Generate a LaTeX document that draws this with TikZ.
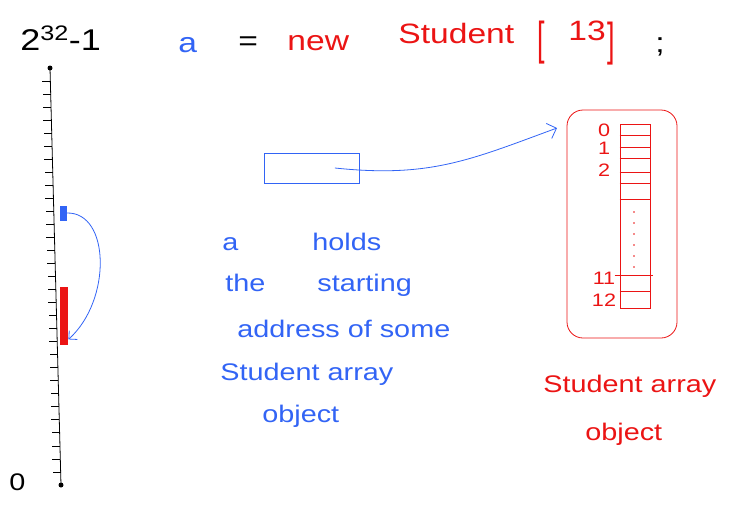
\documentclass[tikz,border=0pt]{standalone}
\usepackage{fontspec}
\usepackage{graphicx}
\newfontfamily\hand[FakeStretch=1.2]{Liberation Sans}
\usetikzlibrary{positioning, calc, arrows.meta}
\definecolor{penblue}{RGB}{50,100,245}
\definecolor{penred}{RGB}{235,20,20}
\tikzset{
  handtext/.style={inner sep=0pt, anchor=base west, font=\hand\fontsize{#1}{#1}\selectfont},
  handtext/.default=24,
  bluetext/.style={handtext=24, text=penblue},
  redtext/.style={handtext=24, text=penred},
  idx/.style={inner sep=0pt, text=penred, font=\hand\fontsize{18}{18}\selectfont},
  pointer/.style={draw=penblue, line width=0.8pt, -{Straight Barb[length=8pt,width=16pt]}}
}

\begin{document}
\begin{tikzpicture}[x=1pt, y=-1pt, line width=0.8pt]
  \useasboundingbox (0,0) rectangle (735,507);

  % the memory ruler, 0 at the bottom
  \node[circle, fill, inner sep=0pt, minimum size=5pt] (top) at (50,68) {};
  \node[circle, fill, inner sep=0pt, minimum size=5pt] (bot) at (61,485) {};
  \draw (top.center) -- (bot.center);
  \foreach \i in {1,...,31}{
    % one tick every 1/32 of the ruler
    \draw ($(top.center)!\i/32!(bot.center)$) -- ++(-8,0);
  }
  \node[handtext=30] (max) at (20,50) {2\textsuperscript{32}-1};
  \node[handtext=24] (zero) at (9,490) {0};

  % the variable and the object in memory
  \node[fill=penblue, inner sep=0pt, minimum width=7pt, minimum height=15pt] (bmark) at (63,213) {};
  \node[fill=penred, inner sep=0pt, minimum width=8pt, minimum height=58pt] (rmark) at (64,316) {};
  \draw[pointer, -{Straight Barb[length=6pt,width=12pt]}] (bmark.east)
    .. controls (110,212) and (112,300) .. ([yshift=6pt]rmark.south east);

  % the statement
  \node[handtext=28, text=penblue] (va) at (178,52) {a};
  \node[handtext=28] (eq) at (238,50) {=};
  \node[handtext=28, text=penred] (new) at (287,50) {new};
  \node[handtext=28, text=penred] (cls) at (398,43) {Student};
  \node[handtext=28, text=penred] (lb) at (537,54) {\scalebox{0.8}[1.65]{[}};
  \node[handtext=28, text=penred] (size) at (568,40) {13};
  \node[handtext=28, text=penred] (rb) at (607,55) {\scalebox{0.8}[1.65]{]}};
  \node[handtext=28] (semi) at (655,52) {;};

  % the reference variable a
  \node[draw=penblue, minimum width=95pt, minimum height=30pt] (ptr) at (312,168) {};
  \coordinate (ptrstart) at ([xshift=-25pt]ptr.east);
  \coordinate (tip) at (557,128);
  \draw[pointer] (ptrstart) .. controls (430,178) and (470,160) .. (tip);

  % the array object
  \node[draw=penred, rounded corners=16pt, minimum width=110pt, minimum height=228pt] (obj) at (622,224) {};
  \node[draw=penred, minimum width=30pt, minimum height=184pt] (arr) at (635,216) {};
  \foreach \y in {135,147,158,172,183,199,291}{
    \draw[penred] (arr.west |- 0,\y) -- (arr.east |- 0,\y);
  }
  \draw[penred] ([xshift=-5pt]arr.west |- 0,275) -- ([xshift=3pt]arr.east |- 0,275);
  \foreach \y in {212,223,...,268}{
    \fill[penred] (634,\y) circle (0.9);
  }
  \foreach \n/\y in {0/130,1/148,2/170,11/278,12/300}{
    \node[idx] (i\n) at (604,\y) {\n};
  }
  \node[redtext] (rlabel) at (543,392) {Student array};
  \node[redtext] (robj) at (585,440) {object};

  % explanation
  \node[bluetext] (ta) at (222,250) {a};
  \node[bluetext] (tholds) at (312,250) {holds};
  \node[bluetext] (tthe) at (225,291) {the};
  \node[bluetext] (tstart) at (317,291) {starting};
  \node[bluetext] (taddr) at (237,337) {address of some};
  \node[bluetext] (tstud) at (220,380) {Student array};
  \node[bluetext] (tobj) at (262,422) {object};
\end{tikzpicture}
\end{document}
